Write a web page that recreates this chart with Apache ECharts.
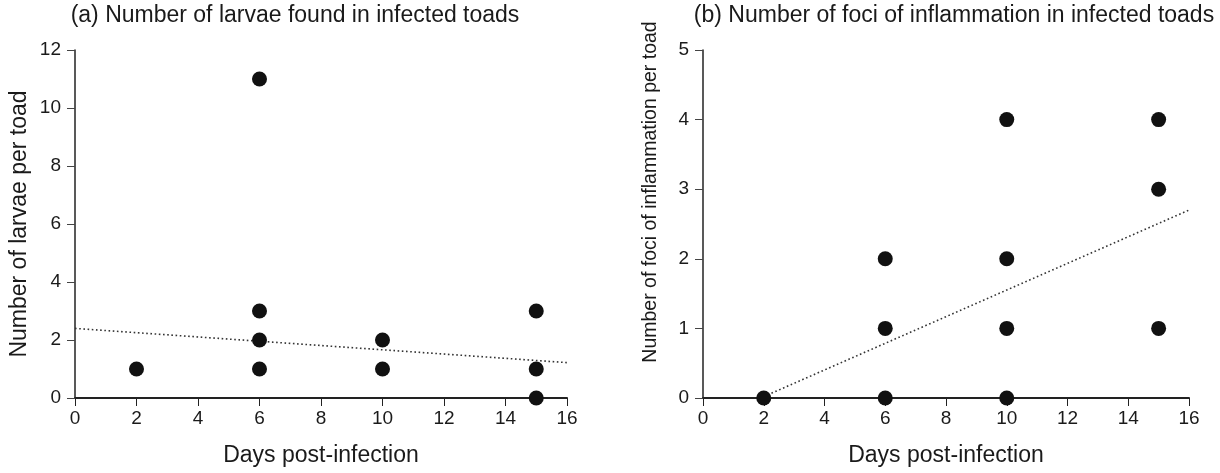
<!DOCTYPE html>
<html><head><meta charset="utf-8">
<script src="https://cdn.jsdelivr.net/npm/echarts@6/dist/echarts.min.js"></script>
<style>html,body{margin:0;padding:0;background:#fff}#c{width:1220px;height:473px}</style>
</head><body><div id="c"></div>
<script>
const titleA = "(a) Number of larvae found in infected toads";
const titleB = "(b) Number of foci of inflammation in infected toads";
const xName = "Days post-infection";
const yNameA = "Number of larvae per toad";
const yNameB = "Number of foci of inflammation per toad";
const larvaeDays =   [2, 6, 6, 6, 6, 10, 10, 15, 15, 15];
const larvaeCounts = [1, 11, 3, 2, 1, 2, 1, 3, 1, 0];
const fociDays =   [2, 6, 6, 6, 10, 10, 10, 10, 15, 15, 15];
const fociCounts = [0, 2, 1, 0, 4, 2, 1, 0, 4, 3, 1];
const trendADays = [0, 16];
const trendAVals = [2.4, 1.22];
const trendBDays = [2, 16];
const trendBVals = [0.02, 2.7];

const ink = '#1a1a1a';
const font = "'Liberation Sans', Arial, Helvetica, sans-serif";
const zip = (a, b) => a.map((v, i) => [v, b[i]]);

// Is a narrow sans installed? (reference's right-hand y label is condensed)
function hasFont(name) {
  const c = document.createElement('canvas').getContext('2d');
  c.font = "40px monospace"; const w0 = c.measureText('Number of foci mmmwwwiii').width;
  c.font = "40px '" + name + "', monospace"; const w1 = c.measureText('Number of foci mmmwwwiii').width;
  return Math.abs(w0 - w1) > 0.5;
}
const narrow = hasFont('Liberation Sans Narrow');
const yNameBStyle = narrow
  ? { fontFamily: "'Liberation Sans Narrow'", fontSize: 23 }
  : { fontFamily: font, fontSize: 19.5 };

function xAxis(idx) {
  return {
    gridIndex: idx, type: 'value', min: 0, max: 16, interval: 2,
    name: xName, nameLocation: 'middle', nameGap: 46,
    nameTextStyle: { fontFamily: font, fontSize: 23, color: ink },
    axisLine: { onZero: false, lineStyle: { color: '#222', width: 2 } },
    axisTick: { show: true, length: 8, lineStyle: { color: '#222', width: 1 } },
    axisLabel: { fontFamily: font, fontSize: 19, color: ink, margin: 11 },
    splitLine: { show: false }
  };
}
function yAxis(idx, max, interval, name, gap, style, pad) {
  return {
    gridIndex: idx, type: 'value', min: 0, max: max, interval: interval,
    name: name, nameLocation: 'middle', nameGap: gap, nameRotate: 90,
    nameTextStyle: Object.assign({ color: ink, padding: pad }, style),
    axisLine: { show: true, lineStyle: { color: '#222', width: 1.5 } },
    axisTick: { show: true, length: 8, lineStyle: { color: '#444', width: 1 } },
    axisLabel: { fontFamily: font, fontSize: 19, color: ink, margin: 14 },
    splitLine: { show: false }
  };
}
function scatter(idx, data) {
  return { type: 'scatter', xAxisIndex: idx, yAxisIndex: idx, data: data,
    symbol: 'circle', symbolSize: 15, itemStyle: { color: '#111', opacity: 1 }, z: 5 };
}
function trend(idx, data) {
  return { type: 'line', xAxisIndex: idx, yAxisIndex: idx, data: data,
    symbol: 'none', lineStyle: { color: '#333', width: 1.6, type: [1.6, 2.6] }, z: 3 };
}

const chart = echarts.init(document.getElementById('c'), null, { renderer: 'canvas' });
chart.setOption({
  animation: false,
  backgroundColor: '#fff',
  title: [
    { text: titleA, left: 295, top: 4, padding: 0, textAlign: 'center',
      textStyle: { fontFamily: font, fontSize: 23, fontWeight: 'normal', color: ink } },
    { text: titleB, left: 954, top: 4, padding: 0, textAlign: 'center',
      textStyle: { fontFamily: font, fontSize: 23, fontWeight: 'normal', color: ink } }
  ],
  grid: [
    { left: 75, right: 653, top: 50, bottom: 75 },
    { left: 703, right: 31, top: 50, bottom: 75 }
  ],
  xAxis: [xAxis(0), xAxis(1)],
  yAxis: [
    yAxis(0, 12, 2, yNameA, 44, { fontFamily: font, fontSize: 23 }, 0),
    yAxis(1, 5, 1, yNameB, 42, yNameBStyle, [0, 0, 0, 64])
  ],
  series: [
    trend(0, zip(trendADays, trendAVals)),
    scatter(0, zip(larvaeDays, larvaeCounts)),
    trend(1, zip(trendBDays, trendBVals)),
    scatter(1, zip(fociDays, fociCounts))
  ]
});
</script></body></html>
